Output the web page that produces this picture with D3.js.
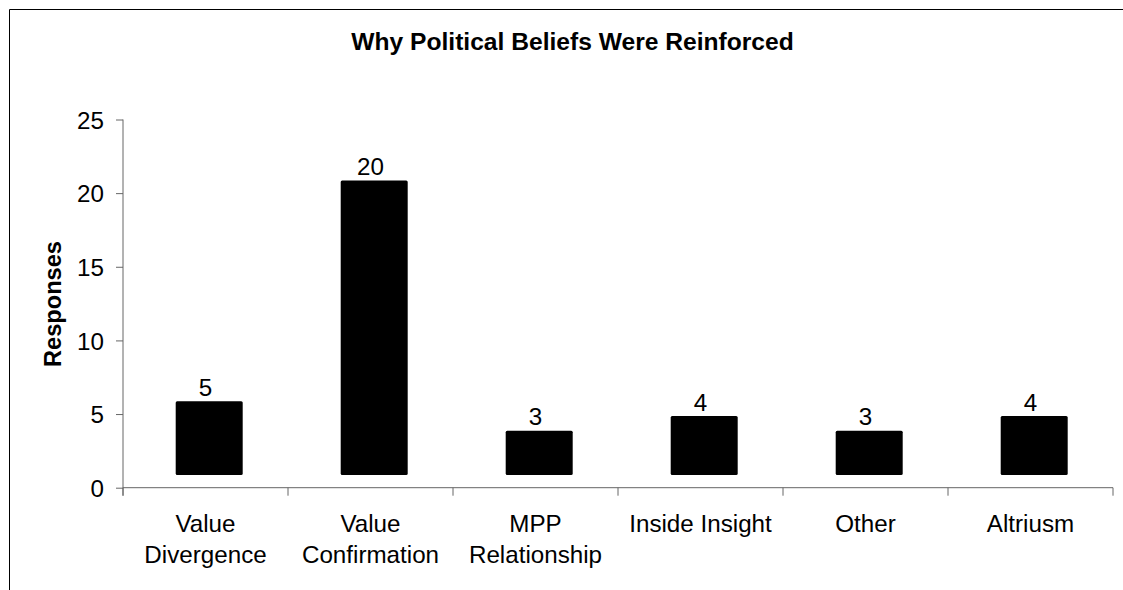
<!DOCTYPE html>
<html>
<head>
<meta charset="utf-8">
<script src="https://cdn.jsdelivr.net/npm/d3@7"></script>
<style>
  html, body { margin: 0; padding: 0; background: #fff; }
  svg { display: block; font-family: "Liberation Sans", Arial, sans-serif; }
</style>
</head>
<body>
<svg id="chart" width="1123" height="590"></svg>
<script>
const categories = [["Value", "Divergence"], ["Value", "Confirmation"], ["MPP", "Relationship"], ["Inside Insight"], ["Other"], ["Altriusm"]];
const values = [5, 20, 3, 4, 3, 4];
const yTicks = [0, 5, 10, 15, 20, 25];
const title = "Why Political Beliefs Were Reinforced";
const yTitle = "Responses";

(function () {
const svg = d3.select("#chart");
const W = 1123, H = 590;
const mLeft = 123, mRight = 1113, mTop = 119.5, mBottom = 487.7;
const depthX = 3.7, depthY = 12.7; // flat 3-D offset of the bars
const fs = 24.2;

svg.append("rect").attr("width", W).attr("height", H).attr("fill", "#fff");

// frame (top and left edges)
svg.append("path").attr("d", `M9.5,${H} V9.5 H${W}`).attr("fill", "none").attr("stroke", "#000").attr("stroke-width", 1);

const x = d3.scaleBand().domain(d3.range(values.length)).range([mLeft, mRight]).paddingInner(0).paddingOuter(0);
const y = d3.scaleLinear().domain([0, 25]).range([mBottom, mTop]);

// title
svg.append("text").attr("x", 572.5).attr("y", 50).attr("text-anchor", "middle")
  .attr("font-size", 24.6).attr("font-weight", "bold").attr("fill", "#000").text(title);

// y axis title
svg.append("text").attr("transform", `translate(61,304) rotate(-90)`).attr("text-anchor", "middle")
  .attr("font-size", 23.6).attr("font-weight", "bold").attr("fill", "#000").text(yTitle);

// bars
const barW = 67;
svg.append("g").selectAll("rect").data(values).join("rect")
  .attr("x", (d, i) => x(i) + x.bandwidth() / 2 - barW / 2 + depthX)
  .attr("y", d => y(d) - depthY)
  .attr("width", barW)
  .attr("height", d => y(0) - y(d))
  .attr("rx", 1.5)
  .attr("fill", "#000");

// value labels
svg.append("g").selectAll("text").data(values).join("text")
  .attr("x", (d, i) => x(i) + x.bandwidth() / 2)
  .attr("y", d => y(d) - depthY - 5.5)
  .attr("text-anchor", "middle").attr("font-size", fs).attr("fill", "#000")
  .text(d => d);

// y axis
const yAxis = svg.append("g").attr("transform", `translate(${mLeft},0)`)
  .call(d3.axisLeft(y).tickValues(yTicks).tickSize(7).tickPadding(12).tickFormat(d3.format("d")));
yAxis.selectAll("text").attr("font-size", fs).attr("fill", "#000").attr("dy", "0.36em")
  .attr("font-family", '"Liberation Sans", Arial, sans-serif');
yAxis.select(".domain").attr("d", `M0,${mTop} V${mBottom + 8}`).attr("stroke", "#666");
yAxis.selectAll(".tick line").attr("stroke", "#666");

// x axis
const xAxis = svg.append("g").attr("transform", `translate(0,${mBottom})`);
xAxis.append("line").attr("x1", mLeft).attr("x2", mRight).attr("stroke", "#666");
const tickPos = d3.range(values.length + 1).map(i => mLeft + i * x.step());
xAxis.selectAll("line.t").data(tickPos).join("line").attr("class", "t")
  .attr("x1", d => d).attr("x2", d => d).attr("y1", 0).attr("y2", 8).attr("stroke", "#666");

const catG = svg.append("g").selectAll("text").data(categories).join("text")
  .attr("text-anchor", "middle").attr("font-size", fs).attr("fill", "#000");
catG.each(function (lines, i) {
  const t = d3.select(this);
  lines.forEach((ln, j) => {
    t.append("tspan").attr("x", x(i) + x.bandwidth() / 2).attr("y", 532 + j * 30.7).text(ln);
  });
});
})();
</script>
</body>
</html>
